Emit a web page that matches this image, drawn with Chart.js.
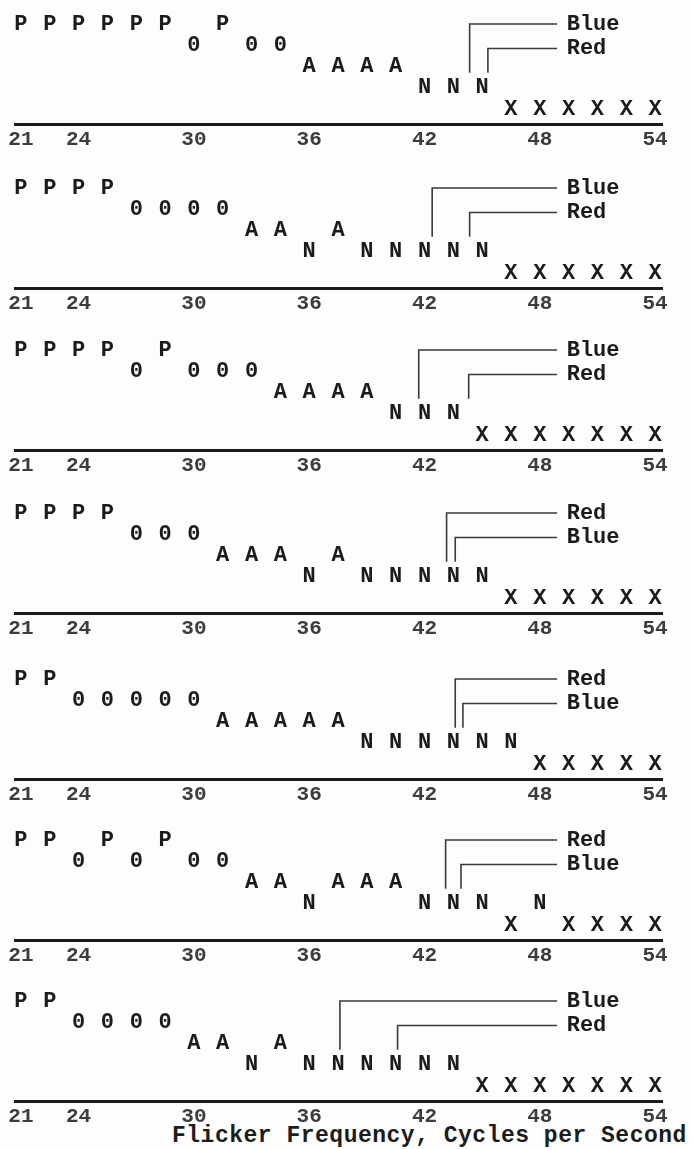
<!DOCTYPE html>
<html>
<head>
<meta charset="utf-8">
<script src="https://cdn.jsdelivr.net/npm/chart.js@4.4.0/dist/chart.umd.min.js"></script>
<style>
  body { margin: 0; background: #fdfdfd; width: 692px; height: 1149px; position: relative; overflow: hidden; }
  .panel { position: absolute; left: 0; width: 692px; height: 154px; }
  #xtitle { position: absolute; left: 172px; top: 1123px; font: bold 23px "Liberation Mono", monospace; letter-spacing: 0.5px; color: #1c1c1c; white-space: nowrap; }
</style>
</head>
<body>
<div id="xtitle">Flicker Frequency, Cycles per Second</div>

<script>
// typewriter slots, 1.5 c/s apart
var freqs = [21, 22.5, 24, 25.5, 27, 28.5, 30, 31.5, 33, 34.5, 36, 37.5, 39, 40.5, 42, 43.5, 45, 46.5, 48, 49.5, 51, 52.5, 54];
var tickLabels = [21, 24, 30, 36, 42, 48, 54];
var rows = ['X', 'N', 'A', '0', 'P'];   // bottom row -> top row

var panel1 = ['P','P','P','P','P','P','0','P','0','0','A','A','A','A','N','N','N','X','X','X','X','X','X'];
var panel2 = ['P','P','P','P','0','0','0','0','A','A','N','A','N','N','N','N','N','X','X','X','X','X','X'];
var panel3 = ['P','P','P','P','0','P','0','0','0','A','A','A','A','N','N','N','X','X','X','X','X','X','X'];
var panel4 = ['P','P','P','P','0','0','0','A','A','A','N','A','N','N','N','N','N','X','X','X','X','X','X'];
var panel5 = ['P','P','0','0','0','0','0','A','A','A','A','A','N','N','N','N','N','N','X','X','X','X','X'];
var panel6 = ['P','P','0','P','0','P','0','0','A','A','N','A','A','A','N','N','N','X','N','X','X','X','X'];
var panel7 = ['P','P','0','0','0','0','A','A','N','A','N','N','N','N','N','N','X','X','X','X','X','X','X'];

var blueCut = [44.35, 42.4, 41.7, 43.6, 44.0, 43.9, 37.6];
var redCut  = [45.3, 44.35, 44.3, 43.15, 43.6, 43.1, 40.6];

var panels = [panel1, panel2, panel3, panel4, panel5, panel6, panel7];
var axisY = [124, 288, 450, 613, 779, 940, 1101];   // page y of each baseline

var ink = '#1b1b1b';
var typeFont = '"Liberation Mono", monospace';
var lineEnd = 48.9, labelX = 49.4;
var upperRow = 4.0, lowerRow = 2.85, stemBottom = 1.7;

var typewriter = {
  id: 'typewriter',
  afterDatasetsDraw: function(chart) {
    var ctx = chart.ctx;
    var ds = chart.data.datasets[0];
    var meta = chart.getDatasetMeta(0);
    ctx.save();
    ctx.font = 'bold 22px ' + typeFont;
    ctx.fillStyle = ink;
    ctx.textAlign = 'center';
    ctx.textBaseline = 'middle';
    meta.data.forEach(function(pt, i) {
      ctx.fillText(ds.letters[i], pt.x, pt.y);
    });
    ctx.textAlign = 'left';
    chart.options.plugins.cutLabels.forEach(function(lb) {
      ctx.fillText(lb.text, chart.scales.x.getPixelForValue(labelX), chart.scales.y.getPixelForValue(lb.row));
    });
    ctx.restore();
  }
};

function bracket(cut, row) {
  return {
    type: 'line',
    data: [{x: lineEnd, y: row}, {x: cut, y: row}, {x: cut, y: stemBottom}],
    borderColor: '#3a3a3a',
    borderWidth: 1.6,
    pointRadius: 0,
    fill: false,
    tension: 0
  };
}

panels.forEach(function(letters, p) {
  var div = document.createElement('div');
  div.className = 'panel';
  div.style.top = (axisY[p] - 124) + 'px';
  var cv = document.createElement('canvas');
  cv.width = 692; cv.height = 154;
  div.appendChild(cv);
  document.body.appendChild(div);

  var pts = letters.map(function(l, i) { return {x: freqs[i], y: rows.indexOf(l)}; });
  var blueTop = blueCut[p] < redCut[p];
  var blueRow = blueTop ? upperRow : lowerRow;
  var redRow = blueTop ? lowerRow : upperRow;

  new Chart(cv, {
    type: 'scatter',
    data: {
      datasets: [
        { data: pts, letters: letters, pointRadius: 0, showLine: false },
        bracket(blueCut[p], blueRow),
        bracket(redCut[p], redRow)
      ]
    },
    options: {
      responsive: false,
      animation: false,
      devicePixelRatio: 1,
      layout: { padding: { left: 15, right: 30, top: 0, bottom: 0 } },
      plugins: {
        legend: { display: false },
        tooltip: { enabled: false },
        cutLabels: [{text: 'Blue', row: blueRow}, {text: 'Red', row: redRow}]
      },
      scales: {
        x: {
          type: 'linear',
          min: 20.69,
          max: 54.36,
          afterBuildTicks: function(scale) {
            scale.ticks = tickLabels.map(function(v) { return {value: v}; });
          },
          afterFit: function(scale) { scale.height = 30; },
          grid: { display: false, drawTicks: false },
          border: { display: true, color: ink, width: 3 },
          ticks: {
            autoSkip: false,
            maxRotation: 0,
            padding: 3,
            color: '#3c3c3c',
            font: { family: typeFont, size: 21, weight: 'bold' }
          }
        },
        y: {
          type: 'linear',
          display: false,
          min: -0.706,
          max: 5.129
        }
      }
    },
    plugins: [typewriter]
  });
});
</script>
</body>
</html>
